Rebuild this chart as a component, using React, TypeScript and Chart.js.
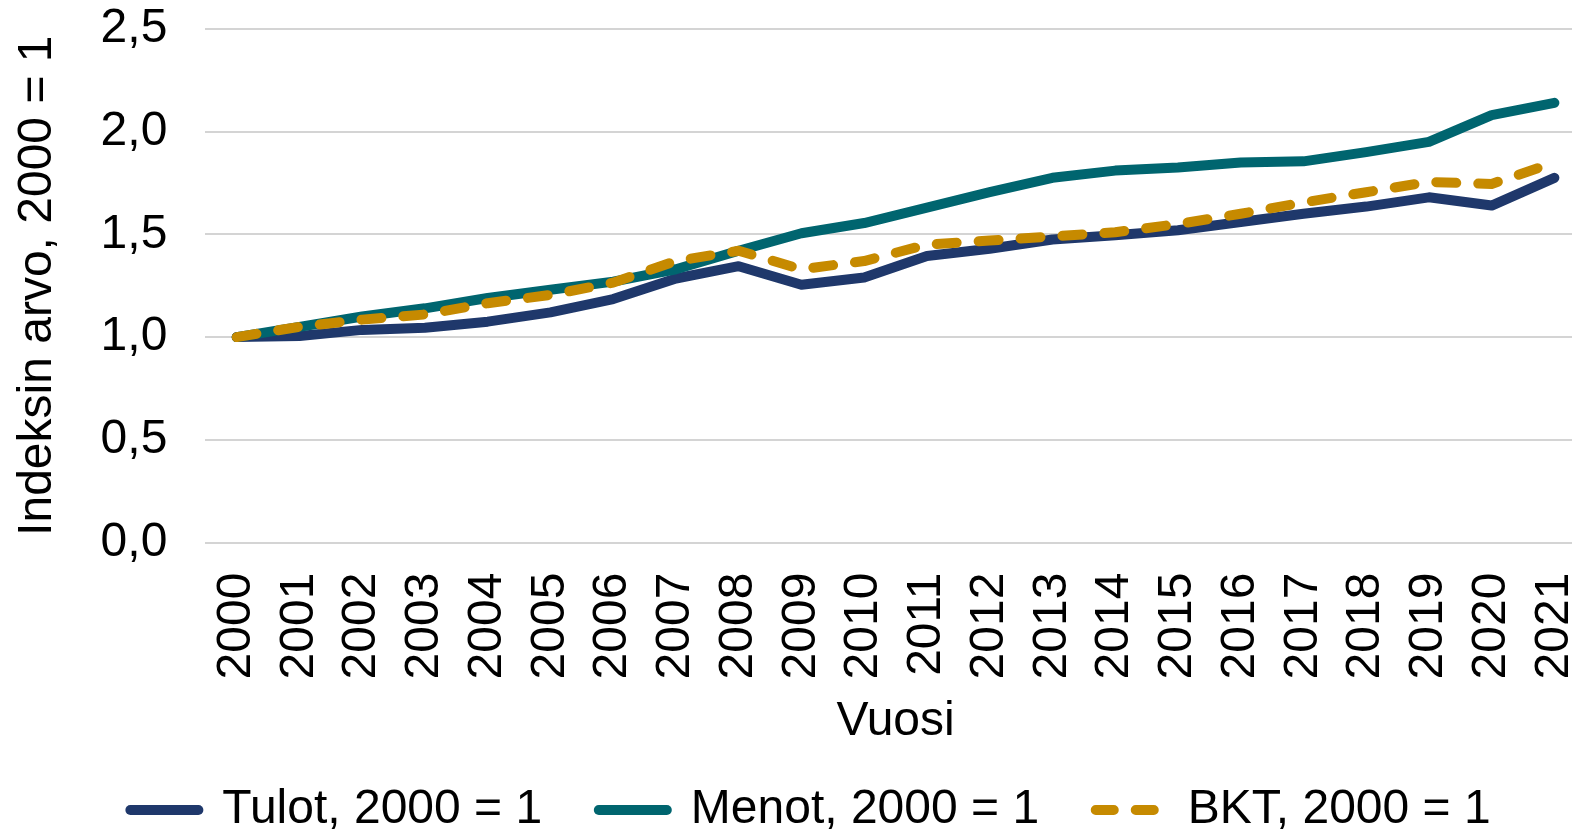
import React, { useEffect, useRef } from "react";
import { Chart, registerables } from "chart.js";

Chart.register(...registerables);

const years = ["2000","2001","2002","2003","2004","2005","2006","2007","2008","2009","2010","2011","2012","2013","2014","2015","2016","2017","2018","2019","2020","2021"];
const tulot = [1.0, 1.005, 1.035, 1.045, 1.075, 1.12, 1.185, 1.285, 1.345, 1.255, 1.29, 1.395, 1.43, 1.475, 1.495, 1.52, 1.56, 1.6, 1.635, 1.68, 1.64, 1.775];
const menot = [1.0, 1.05, 1.1, 1.14, 1.19, 1.23, 1.27, 1.33, 1.42, 1.505, 1.555, 1.63, 1.705, 1.775, 1.81, 1.825, 1.85, 1.855, 1.9, 1.95, 2.08, 2.14];
const bkt = [1.0, 1.05, 1.085, 1.11, 1.165, 1.205, 1.265, 1.37, 1.42, 1.33, 1.37, 1.45, 1.47, 1.49, 1.51, 1.55, 1.6, 1.655, 1.705, 1.755, 1.745, 1.85];
const seriesNames = ["Tulot, 2000 = 1", "Menot, 2000 = 1", "BKT, 2000 = 1"];
const yTicks = [0, 0.5, 1.0, 1.5, 2.0, 2.5];

const FONT = "'Liberation Sans', Arial, sans-serif";
const FS = 48;

export default function App() {
  const ref = useRef<HTMLCanvasElement | null>(null);
  useEffect(() => {
    if (!ref.current) return;
    const colors = ["#1F386B", "#00656F", "#C68A00"];
    const dashes = [[], [], [20, 22]];
    const orders = [3, 2, 1];
    const data = [tulot, menot, bkt];
    const chart = new Chart(ref.current, {
      type: "line",
      data: {
        labels: years,
        datasets: data.map((d, i) => ({
          label: seriesNames[i],
          data: d,
          borderColor: colors[i],
          backgroundColor: colors[i],
          borderWidth: 10,
          borderDash: dashes[i],
          borderCapStyle: "round",
          borderJoinStyle: "round",
          pointRadius: 0,
          tension: 0,
          order: orders[i],
        })),
      },
      options: {
        animation: false,
        responsive: false,
        maintainAspectRatio: false,
        layout: { padding: { left: 9, right: 0, top: 0, bottom: -11 } },
        plugins: {
          tooltip: { enabled: false },
          legend: {
            position: "bottom",
            labels: {
              color: "#000",
              font: { family: FONT, size: FS },
              usePointStyle: true,
              pointStyle: "line",
              pointStyleWidth: 68,
              boxHeight: 10,
              padding: 30,
              generateLabels: (c: any) =>
                c.data.datasets.map((ds: any, i: number) => ({
                  text: i < c.data.datasets.length - 1 ? ds.label + "\u00A0\u00A0" : ds.label,
                  fillStyle: ds.borderColor,
                  strokeStyle: ds.borderColor,
                  lineWidth: 10,
                  lineDash: i === 2 ? [18, 22] : [],
                  lineCap: "round",
                  pointStyle: "line",
                  fontColor: "#000",
                  datasetIndex: i,
                  hidden: false,
                })),
            },
          },
        },
        scales: {
          x: {
            type: "category",
            offset: true,
            grid: { display: false, drawTicks: true, tickLength: 30, tickColor: "rgba(0,0,0,0)" },
            border: { display: false },
            ticks: {
              color: "#000",
              font: { family: FONT, size: FS },
              minRotation: 90,
              maxRotation: 90,
              autoSkip: false,
              padding: 0,
            },
            title: {
              display: true,
              text: "Vuosi",
              color: "#000",
              font: { family: FONT, size: FS },
              padding: { top: 14, bottom: 5 },
            },
          },
          y: {
            min: 0,
            max: 2.5,
            afterBuildTicks: (s: any) => {
              s.ticks = yTicks.map((v) => ({ value: v }));
            },
            grid: { color: "#d4d4d4", lineWidth: 2, drawTicks: true, tickLength: 38, tickColor: "rgba(0,0,0,0)" },
            border: { display: false },
            ticks: {
              color: "#000",
              font: { family: FONT, size: FS },
              padding: 0,
              callback: (v: any) => Number(v).toFixed(1).replace(".", ","),
            },
            title: {
              display: true,
              text: "Indeksin arvo, 2000 = 1",
              color: "#000",
              font: { family: FONT, size: FS },
              padding: { top: 0, bottom: 34 },
            },
          },
        },
      },
    } as any);
    return () => chart.destroy();
  }, []);
  return (
    <div style={{ position: "fixed", left: 0, top: 0, width: 1572, height: 833, overflow: "hidden", background: "#fff" }}>
      <canvas ref={ref} width={1612} height={833} style={{ width: 1612, height: 833, display: "block" }} />
    </div>
  );
}
